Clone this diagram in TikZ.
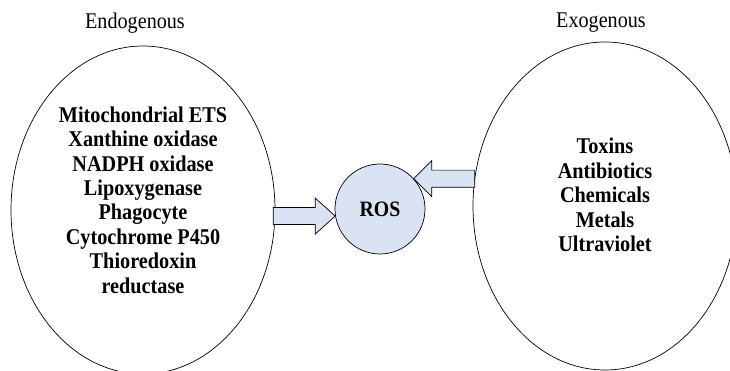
\documentclass[tikz,border=0pt]{standalone}
\usepackage{fontspec}
\setmainfont{Liberation Serif}[FakeStretch=0.9]
\usetikzlibrary{shapes.geometric}
\usepackage{xcolor}
\definecolor{rosfill}{RGB}{218,227,243}

\begin{document}
\begin{tikzpicture}[x=1pt,y=1pt,
  source/.style={draw, ellipse, inner sep=0pt, line width=0.7pt},
  itemlist/.style={align=center, font=\fontsize{22.5}{24.4}\selectfont\bfseries},
  heading/.style={font=\fontsize{22.4}{24}\selectfont},
  blockarrow/.style={draw, fill=rosfill, line width=0.7pt, line join=miter}]
\useasboundingbox (0,0) rectangle (730,371);

% Headings
\node[heading] (endohead) at (135,348) {Endogenous};
\node[heading] (exohead) at (601,348) {Exogenous};

% The two sources
\node[source, minimum width=264pt, minimum height=328pt] (endo) at (143,161) {};
\node[source, minimum width=264pt, minimum height=328pt] (exo) at (605,165) {};

\node[itemlist] (endolist) at (143,171) {Mitochondrial ETS\\Xanthine oxidase\\NADPH oxidase\\Lipoxygenase\\Phagocyte\\Cytochrome P450\\Thioredoxin\\reductase};
\node[itemlist] (exolist) at (605,176) {Toxins\\Antibiotics\\Chemicals\\Metals\\Ultraviolet};

% ROS in the middle
\node[circle, draw, fill=rosfill, line width=0.7pt, minimum size=90pt, inner sep=0pt,
  font=\fontsize{22}{24}\selectfont\bfseries] (ros) at (380,162) {ROS};

% Block arrows into ROS
\draw[blockarrow] (ros.189) -- ++(-20,18) -- ++(0,-9.5) -- ++(-42,0) -- ++(0,-17)
  -- ++(42,0) -- ++(0,-9.5) -- cycle;
\draw[blockarrow] (ros.42) -- ++(18,18) -- ++(0,-9.5) -- ++(43,0) -- ++(0,-17)
  -- ++(-43,0) -- ++(0,-9.5) -- cycle;
\end{tikzpicture}
\end{document}
